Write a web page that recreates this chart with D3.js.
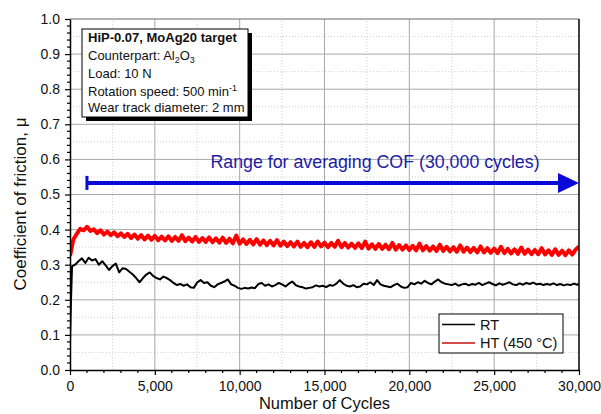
<!DOCTYPE html>
<html>
<head>
<meta charset="utf-8">
<script src="https://cdn.jsdelivr.net/npm/d3@7/dist/d3.min.js"></script>
<style>
  html, body { margin: 0; padding: 0; background: #fff; }
  svg { display: block; font-family: "Liberation Sans", Arial, sans-serif; }
</style>
</head>
<body>
<svg id="chart" width="601" height="414"></svg>
<script>
// Axis settings
const xDomain = [0, 30000];
const yDomain = [0, 1.0];
const xMajorTicks = [0, 5000, 10000, 15000, 20000, 25000, 30000];
const yMajorTicks = [0, 0.1, 0.2, 0.3, 0.4, 0.5, 0.6, 0.7, 0.8, 0.9, 1.0];

// Room-temperature run: [cycles, COF]
const rtSeries = [
  [0,0.075],[60,0.20],[120,0.295],[300,0.300],[500,0.310],[700,0.318],[900,0.305],
  [1100,0.320],[1300,0.312],[1500,0.316],[1700,0.300],[1900,0.310],[2100,0.298],
  [2300,0.285],[2500,0.296],[2700,0.303],[2900,0.278],[3100,0.290],[3300,0.288],
  [3500,0.280],[3700,0.272],[3900,0.262],[4100,0.250],[4300,0.262],[4500,0.272],
  [4700,0.278],[4900,0.268],[5100,0.262],[5300,0.258],[5500,0.266],[5700,0.262],
  [5900,0.256],[6100,0.248],[6300,0.242],[6500,0.245],[6700,0.240],[6900,0.244],
  [7100,0.236],[7300,0.234],[7500,0.250],[7700,0.256],[7900,0.248],[8100,0.250],
  [8300,0.240],[8500,0.236],[8700,0.244],[8900,0.248],[9100,0.252],[9300,0.258],
  [9500,0.244],[9700,0.240],[9900,0.234],[10100,0.231],[10300,0.234],[10500,0.232],
  [10700,0.235],[10900,0.233],[11100,0.245],[11300,0.248],[11500,0.240],[11700,0.244],
  [11900,0.238],[12100,0.242],[12300,0.248],[12500,0.244],[12700,0.238],[12900,0.246],
  [13100,0.252],[13300,0.242],[13500,0.238],[13700,0.236],[13900,0.232],[14100,0.234],
  [14300,0.236],[14500,0.241],[14700,0.238],[14900,0.240],[15100,0.236],[15300,0.242],
  [15500,0.240],[15700,0.246],[15900,0.256],[16100,0.246],[16300,0.240],[16500,0.238],
  [16700,0.242],[16900,0.236],[17100,0.238],[17300,0.246],[17500,0.244],[17700,0.250],
  [17900,0.242],[18100,0.256],[18300,0.244],[18500,0.240],[18700,0.238],[18900,0.236],
  [19100,0.242],[19300,0.246],[19500,0.238],[19700,0.234],[19900,0.236],[20100,0.248],
  [20300,0.244],[20500,0.250],[20700,0.246],[20900,0.254],[21100,0.248],[21300,0.244],
  [21500,0.252],[21700,0.258],[21900,0.250],[22100,0.246],[22300,0.244],[22500,0.242],
  [22700,0.246],[22900,0.240],[23100,0.244],[23300,0.246],[23500,0.241],[23700,0.245],
  [23900,0.243],[24100,0.248],[24300,0.242],[24500,0.246],[24700,0.250],[24900,0.245],
  [25100,0.241],[25300,0.247],[25500,0.243],[25700,0.246],[25900,0.250],[26100,0.244],
  [26300,0.242],[26500,0.247],[26700,0.243],[26900,0.248],[27100,0.245],[27300,0.249],
  [27500,0.244],[27700,0.246],[27900,0.242],[28100,0.245],[28300,0.243],[28500,0.247],
  [28700,0.242],[28900,0.245],[29100,0.241],[29300,0.244],[29500,0.242],[29700,0.246],
  [29900,0.243],[30000,0.245]
];

// High-temperature (450 °C) run, logged every 200 cycles
const htStep = 200;
const htCof = [
  0.325,0.372,0.388,0.402,0.398,0.408,0.396,0.401,0.390,0.398,
  0.386,0.394,0.384,0.392,0.381,0.389,0.379,0.388,0.376,0.386,
  0.374,0.384,0.372,0.383,0.371,0.382,0.370,0.380,0.369,0.381,
  0.368,0.379,0.368,0.384,0.367,0.377,0.366,0.379,0.365,0.376,
  0.365,0.378,0.364,0.375,0.363,0.377,0.362,0.374,0.361,0.383,
  0.360,0.372,0.359,0.371,0.358,0.373,0.357,0.369,0.356,0.368,
  0.355,0.370,0.354,0.366,0.353,0.364,0.352,0.366,0.351,0.362,
  0.350,0.364,0.351,0.366,0.352,0.363,0.350,0.362,0.351,0.368,
  0.350,0.362,0.349,0.360,0.348,0.361,0.347,0.366,0.346,0.358,
  0.345,0.359,0.345,0.357,0.344,0.362,0.343,0.356,0.343,0.355,
  0.342,0.354,0.341,0.360,0.341,0.353,0.340,0.352,0.339,0.357,
  0.339,0.351,0.338,0.350,0.337,0.355,0.337,0.349,0.336,0.348,
  0.335,0.352,0.335,0.347,0.334,0.346,0.333,0.351,0.333,0.345,
  0.332,0.344,0.331,0.349,0.331,0.343,0.330,0.342,0.330,0.347,
  0.329,0.341,0.328,0.344,0.328,0.340,0.327,0.341,0.329,0.343,
  0.352
];

// Averaging range annotation
const avgRange = [1000, 30000];
const avgLevel = 0.533;
const avgLabel = "Range for averaging COF (30,000 cycles)";

// Test conditions
const infoTitle = "HiP-0.07, MoAg20 target";
const legendNames = ["RT", "HT (450 °C)"];

const svg = d3.select("#chart");
const x = d3.scaleLinear().domain(xDomain).range([70, 579]);
const y = d3.scaleLinear().domain(yDomain).range([370, 19]);
const fmt = d3.format(",");

// Grid: dotted minor lines, solid major lines
const grid = svg.append("g");
const xMinorGrid = d3.range(2500, 30000, 5000);
const yMinorGrid = d3.range(0.05, 1.0, 0.1);
grid.selectAll(".xmg").data(xMinorGrid).join("line")
  .attr("x1", d => x(d)).attr("x2", d => x(d)).attr("y1", y(0)).attr("y2", y(1))
  .attr("stroke", "#cfcfcf").attr("stroke-dasharray", "1,2");
grid.selectAll(".ymg").data(yMinorGrid).join("line")
  .attr("x1", x(0)).attr("x2", x(30000)).attr("y1", d => y(d)).attr("y2", d => y(d))
  .attr("stroke", "#cfcfcf").attr("stroke-dasharray", "1,2");
grid.selectAll(".xg").data(xMajorTicks.slice(1, -1)).join("line")
  .attr("x1", d => x(d)).attr("x2", d => x(d)).attr("y1", y(0)).attr("y2", y(1))
  .attr("stroke", "#a8a8a8");
grid.selectAll(".yg").data(yMajorTicks.slice(1, -1)).join("line")
  .attr("x1", x(0)).attr("x2", x(30000)).attr("y1", d => y(d)).attr("y2", d => y(d))
  .attr("stroke", "#a8a8a8");

// Data lines, clipped to the plot frame
svg.append("clipPath").attr("id", "plotclip").append("rect")
  .attr("x", x(0)).attr("y", y(1)).attr("width", x(30000) - x(0)).attr("height", y(0) - y(1));
const plot = svg.append("g").attr("clip-path", "url(#plotclip)");

const htLine = d3.line().x((d, i) => x(i * htStep)).y(d => y(d));
plot.append("path").datum(htCof).attr("d", htLine)
  .attr("fill", "none").attr("stroke", "#ff0000").attr("stroke-width", 4)
  .attr("stroke-linejoin", "round");

const rtLine = d3.line().x(d => x(d[0])).y(d => y(d[1]));
plot.append("path").datum(rtSeries).attr("d", rtLine)
  .attr("fill", "none").attr("stroke", "#000").attr("stroke-width", 2)
  .attr("stroke-linejoin", "round");

// Frame: top in grey, right in black
svg.append("line").attr("x1", x(0)).attr("x2", x(30000)).attr("y1", y(1)).attr("y2", y(1))
  .attr("stroke", "#666").attr("stroke-width", 1);
svg.append("line").attr("x1", x(30000)).attr("x2", x(30000)).attr("y1", y(1)).attr("y2", y(0))
  .attr("stroke", "#000").attr("stroke-width", 1.5);

// Axes
const xAxis = svg.append("g").attr("transform", `translate(0,${y(0)})`)
  .call(d3.axisBottom(x).tickValues(xMajorTicks).tickFormat(fmt).tickSize(5).tickSizeOuter(0));
const yAxis = svg.append("g").attr("transform", `translate(${x(0)},0)`)
  .call(d3.axisLeft(y).tickValues(yMajorTicks).tickFormat(d3.format(".1f")).tickSize(5).tickSizeOuter(0));
[xAxis, yAxis].forEach(a => {
  a.select(".domain").attr("stroke", "#000").attr("stroke-width", 1.5);
  a.selectAll(".tick line").attr("stroke", "#000").attr("stroke-width", 1.2);
  a.selectAll(".tick text").attr("font-size", 14).attr("fill", "#111")
    .attr("font-family", "Liberation Sans, Arial, sans-serif");
});
xAxis.selectAll(".tick text").attr("y", 11);
yAxis.selectAll(".tick text").attr("x", -10);

// Minor ticks
const xMinor = d3.range(1000, 30000, 1000).filter(v => v % 5000 !== 0);
const yMinor = d3.range(0.02, 1.0, 0.02).filter(v => Math.abs(v * 10 - Math.round(v * 10)) > 1e-6);
svg.append("g").selectAll("line").data(xMinor).join("line")
  .attr("x1", d => x(d)).attr("x2", d => x(d)).attr("y1", y(0)).attr("y2", y(0) + 3)
  .attr("stroke", "#000").attr("stroke-width", 1.2);
svg.append("g").selectAll("line").data(yMinor).join("line")
  .attr("x1", x(0) - 3).attr("x2", x(0)).attr("y1", d => y(d)).attr("y2", d => y(d))
  .attr("stroke", "#000").attr("stroke-width", 1.2);

// Axis titles
svg.append("text").attr("x", (x(0) + x(30000)) / 2).attr("y", 409)
  .attr("text-anchor", "middle").attr("font-size", 16.5).attr("fill", "#111")
  .text("Number of Cycles");
svg.append("text").attr("transform", "translate(26,204) rotate(-90)")
  .attr("text-anchor", "middle").attr("font-size", 17).attr("fill", "#111")
  .text("Coefficient of friction, μ");

// Averaging range arrow
const blue = "#0a0ad8";
svg.append("line").attr("x1", x(avgRange[0])).attr("x2", x(avgRange[1]) - 18)
  .attr("y1", y(avgLevel)).attr("y2", y(avgLevel)).attr("stroke", blue).attr("stroke-width", 4);
svg.append("line").attr("x1", x(avgRange[0])).attr("x2", x(avgRange[0]))
  .attr("y1", y(avgLevel) - 7).attr("y2", y(avgLevel) + 7).attr("stroke", blue).attr("stroke-width", 3);
const tipX = x(avgRange[1]), tipY = y(avgLevel);
svg.append("path")
  .attr("d", `M${tipX},${tipY} L${tipX - 21},${tipY - 10} L${tipX - 21},${tipY + 10} Z`)
  .attr("fill", blue);
svg.append("text").attr("x", 375).attr("y", 168)
  .attr("text-anchor", "middle").attr("font-size", 17.8).attr("fill", "#1c1ca6")
  .text(avgLabel);

// Test-condition box with drop shadow
const box = { x: 82, y: 29, w: 166, h: 88 };
svg.append("rect").attr("x", box.x + 4).attr("y", box.y + 4).attr("width", box.w).attr("height", box.h)
  .attr("fill", "#000");
svg.append("rect").attr("x", box.x).attr("y", box.y).attr("width", box.w).attr("height", box.h)
  .attr("fill", "#fff").attr("stroke", "#000").attr("stroke-width", 1);
const info = svg.append("g").attr("font-size", 13).attr("fill", "#111");
info.append("text").attr("x", 88).attr("y", 42).attr("font-weight", "bold").text(infoTitle);
const l2 = info.append("text").attr("x", 88).attr("y", 60);
l2.append("tspan").text("Counterpart: Al");
l2.append("tspan").attr("font-size", 9).attr("dy", 3).text("2");
l2.append("tspan").attr("dy", -3).text("O");
l2.append("tspan").attr("font-size", 9).attr("dy", 3).text("3");
info.append("text").attr("x", 88).attr("y", 78).text("Load: 10 N");
const l4 = info.append("text").attr("x", 88).attr("y", 96);
l4.append("tspan").text("Rotation speed: 500 min");
l4.append("tspan").attr("font-size", 9).attr("dy", -5).text("-1");
info.append("text").attr("x", 88).attr("y", 112).text("Wear track diameter: 2 mm");

// Legend
const lg = svg.append("g");
lg.append("rect").attr("x", 439).attr("y", 314).attr("width", 124).attr("height", 39)
  .attr("fill", "#fff").attr("stroke", "#000").attr("stroke-width", 1);
const legendColors = ["#000", "#c41010"];
legendNames.forEach((name, i) => {
  const ly = 324.5 + i * 18.5;
  lg.append("line").attr("x1", 442).attr("x2", 475).attr("y1", ly).attr("y2", ly)
    .attr("stroke", legendColors[i]).attr("stroke-width", 1.6);
  lg.append("text").attr("x", 480).attr("y", ly + 5).attr("font-size", 14.5).attr("fill", "#111")
    .text(name);
});
</script>
</body>
</html>
